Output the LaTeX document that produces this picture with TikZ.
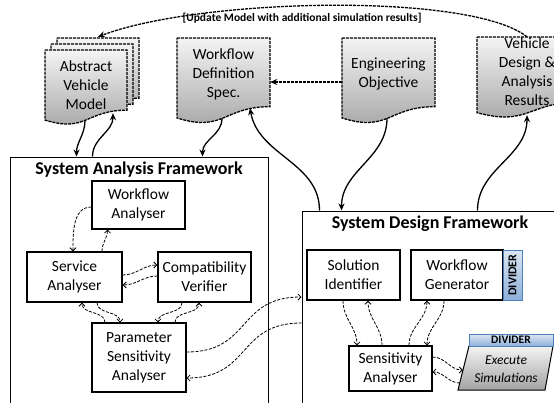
\documentclass[tikz,border=0pt]{standalone}
\usepackage{fontspec}
\setmainfont{Carlito}
\usetikzlibrary{arrows.meta,calc}
\definecolor{docTop}{HTML}{F4F4F4}
\definecolor{docBot}{HTML}{A3A3A3}
\definecolor{divTop}{HTML}{DCE6F2}
\definecolor{divBot}{HTML}{8EB0DA}
\definecolor{divLine}{HTML}{4F81BD}
\newcommand{\docshape}[4]{%
  \path[docfill] (#1,#2) -- (#3,#2) -- (#3,{#2+0.802*#4})
    .. controls ({(#1+#3)/2},{#2+0.802*#4}) and ({(#1+#3)/2},{#2+1.107*#4}) ..
    (#1,{#2+0.934*#4}) -- cycle;}
\tikzset{
  txt/.style={align=center, font=\fontsize{15.5}{19}\selectfont, inner sep=0pt},
  box/.style={txt, draw=black, line width=1.4pt, fill=white},
  tbox/.style={txt, draw=black, line width=1.1pt, fill=white},
  frame/.style={draw=black, line width=1pt, fill=white, inner sep=0pt},
  ftitle/.style={font=\fontsize{18}{20}\selectfont\bfseries, inner sep=0pt},
  docfill/.style={draw=black, line width=1.3pt, dash pattern=on 3pt off 1pt, top color=docTop, bottom color=docBot},
  docnode/.style={txt},
  divbox/.style={draw=divLine, line width=1pt, top color=divTop, bottom color=divBot, inner sep=0pt, font=\fontsize{11.5}{12}\selectfont\bfseries},
  conn/.style={line width=1.3pt, -{Stealth[length=7pt,width=6pt]}},
  dconn/.style={line width=1.3pt, dash pattern=on 3pt off 1pt, -{Stealth[length=7pt,width=6pt]}},
  sconn/.style={line width=0.8pt, dash pattern=on 3pt off 1.5pt, -{Straight Barb[length=3pt,width=6pt]}},
}
\begin{document}
\begin{tikzpicture}[x=1pt,y=-1pt]
\useasboundingbox (0,0) rectangle (554,402);
\clip (0,0) rectangle (554,402);
% frameworks
\node[frame, minimum width=258, minimum height=260] (saf) at (139,287) {};
\node[frame, minimum width=270, minimum height=220] (sdf) at (437,321) {};
\node[ftitle] (saft) at (139,170) {System Analysis Framework};
\node[ftitle] (sdft) at (430,224) {System Design Framework};
% documents
\docshape{57}{38}{139}{75}
\docshape{51}{44}{133}{75}
\docshape{45}{50}{127}{75}
\node[docnode, minimum width=82, minimum height=65] (avm) at (86,85) {Abstract\\Vehicle\\Model};
\docshape{177}{38}{270}{85.6}
\node[docnode, minimum width=93, minimum height=74] (wds) at (223.5,74) {Workflow\\Definition\\Spec.};
\docshape{342}{38}{435}{85.6}
\node[docnode, minimum width=93, minimum height=74] (eo) at (388.5,74) {Engineering\\Objective};
\docshape{477}{37}{580}{81}
\node[docnode, minimum width=100, minimum height=70] (vdar) at (527,71.5) {Vehicle\\Design \&\\Analysis\\Results};
\node[font=\fontsize{11.5}{12}\selectfont\bfseries, inner sep=0pt] (upd) at (302,18) {[Update Model with additional simulation results]};
% analysis boxes
\node[tbox, minimum width=93, minimum height=48] (wa) at (138.5,205) {Workflow\\Analyser};
\node[box, minimum width=95, minimum height=50] (sa) at (74.5,277) {Service\\Analyser};
\node[box, minimum width=93, minimum height=50] (cv) at (204.5,277) {Compatibility\\Verifier};
\node[tbox, minimum width=94, minimum height=69] (psa) at (139,357.5) {Parameter\\Sensitivity\\Analyser};
% design boxes
\node[box, minimum width=93, minimum height=50] (si) at (353.5,275) {Solution\\Identifier};
\node[box, minimum width=92, minimum height=50] (wg) at (457,275) {Workflow\\Generator};
\node[divbox, minimum width=50, minimum height=19, rotate=90, font=\fontsize{12}{12}\selectfont\bfseries] (div1) at (512.5,275) {DIVIDER};
\node[tbox, minimum width=83, minimum height=45] (sena) at (390.5,368.5) {Sensitivity\\Analyser};
\path[draw=black, line width=1pt, top color=docTop, bottom color=docBot] (469,346) -- (553,346) -- (545,390) -- (458,390) -- cycle;
\node[divbox, minimum width=84, minimum height=12] (div2) at (511,340) {DIVIDER};
\node[align=center, font=\fontsize{13.5}{18}\selectfont\itshape, minimum width=88, minimum height=44, inner sep=0pt] (es) at (506,369) {Execute\\Simulations};
% solid connectors
\draw[conn] ($(avm.south)+(-1,2.5)$) to[out=-90,in=90] ($(saf.north west)+(67,0)$);
\draw[conn] ($(saf.north west)+(83,0)$) to[out=90,in=-90] ($(avm.south)+(27,-4.5)$);
\draw[conn] ($(wds.south)+(-1.5,7)$) to[out=-90,in=90] ($(saf.north west)+(193,0)$);
\draw[conn] ($(sdf.north west)+(18,0)$) to[out=90,in=-80] ($(wds.south)+(26.5,-3)$);
\draw[conn] ($(eo.south)+(-1.5,7)$) to[out=-90,in=90] ($(sdf.north west)+(40,0)$);
\draw[conn] ($(sdf.north west)+(176,0)$) to[out=90,in=-90] ($(vdar.south)+(0,8.5)$);
\draw[dconn] ($(eo.west)+(0,8)$) -- ($(wds.east)+(0,8)$);
\draw[dconn] ($(vdar.north)+(0,0.5)$) .. controls (470,-8) and (200,-2) .. ($(avm.north)+(12,-15.5)$);
% analysis internal
\draw[sconn] ($(wa.west)+(0,2)$) to[out=180,in=90] ($(sa.north)+(-1.5,0)$);
\draw[sconn] ($(sa.north)+(27.5,0)$) to[out=90,in=-90] ($(wa.south west)+(16,0)$);
\draw[sconn] ($(sa.east)+(0,-2)$) to[out=0,in=180] ($(cv.west)+(0,-12)$);
\draw[sconn] ($(cv.west)+(0,-1)$) to[out=180,in=0] ($(sa.east)+(0,8)$);
\draw[sconn] ($(sa.south)+(22.5,0)$) to[out=-90,in=90] ($(psa.north)+(-19,0)$);
\draw[sconn] ($(psa.north)+(-34,0)$) to[out=90,in=-90] ($(sa.south)+(7.5,0)$);
\draw[sconn] ($(cv.south)+(-22.5,0)$) to[out=-90,in=90] ($(psa.north)+(19,0)$);
\draw[sconn] ($(psa.north)+(36,0)$) to[out=90,in=-90] ($(cv.south)+(-5.5,0)$);
\draw[sconn] ($(psa.east)+(0,-5.5)$) to[out=0,in=180,looseness=1.3] ($(sdf.west)+(0,-24)$);
\draw[sconn] ($(sdf.west)+(0,2)$) to[out=180,in=0,looseness=1.3] ($(psa.east)+(0,20.5)$);
% design internal
\draw[sconn] ($(si.south)+(-10.5,0)$) to[out=-90,in=90] ($(sena.north)+(-33.5,0)$);
\draw[sconn] ($(sena.north)+(-8.5,0)$) to[out=90,in=-90] ($(si.south)+(14.5,0)$);
\draw[sconn] ($(sena.north)+(18.5,0)$) to[out=90,in=-90] ($(wg.south)+(-30,0)$);
\draw[sconn] ($(wg.south)+(-13,0)$) to[out=-90,in=90] ($(sena.north)+(36.5,0)$);
\draw[sconn] ($(sena.east)+(0,-11.5)$) to[out=0,in=180] ($(es.west)+(1,1)$);
\draw[sconn] ($(es.west)+(-2,14)$) to[out=180,in=0] ($(sena.east)+(0,3.5)$);
\end{tikzpicture}
\end{document}
